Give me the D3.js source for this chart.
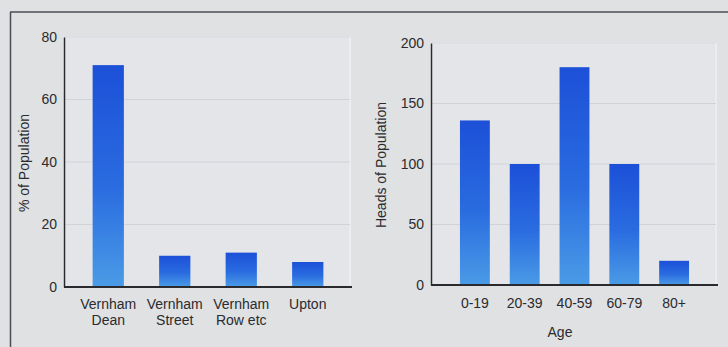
<!DOCTYPE html>
<html>
<head>
<meta charset="utf-8">
<script src="https://cdn.jsdelivr.net/npm/d3@7"></script>
<style>
  body { margin: 0; background: #dfe1e3; }
  svg { display: block; }
  text { font-family: "Liberation Sans", Arial, sans-serif; fill: #2b2b2e; }
</style>
</head>
<body>
<script>
// Data
const places = ["Vernham Dean", "Vernham Street", "Vernham Row etc", "Upton"],
    placeLines = [["Vernham", "Dean"], ["Vernham", "Street"], ["Vernham", "Row etc"], ["Upton"]],
    placePct = [71, 10, 11, 8],
    placeTicks = [0, 20, 40, 60, 80];

const ages = ["0-19", "20-39", "40-59", "60-79", "80+"],
    ageHeads = [136, 100, 180, 100, 20],
    ageTicks = [0, 50, 100, 150, 200];

const width = 728, height = 347;

const svg = d3.select("body").append("svg")
    .attr("width", width)
    .attr("height", height);

// bar gradient, dark blue top to lighter blue bottom
const grad = svg.append("defs").append("linearGradient")
    .attr("id", "barGrad")
    .attr("x1", 0).attr("y1", 0).attr("x2", 0).attr("y2", 1);
grad.append("stop").attr("offset", "0%").attr("stop-color", "#1c50d8");
grad.append("stop").attr("offset", "55%").attr("stop-color", "#2a6ce0");
grad.append("stop").attr("offset", "100%").attr("stop-color", "#4a9be6");

// outer frame lines
svg.append("line").attr("x1", 10).attr("x2", width).attr("y1", 12).attr("y2", 12)
    .attr("stroke", "#4a4e55").attr("stroke-width", 1.5);
svg.append("line").attr("x1", 10.5).attr("x2", 10.5).attr("y1", 12).attr("y2", height)
    .attr("stroke", "#4a4e55").attr("stroke-width", 1.5);

function drawChart(opts) {
    const x = d3.scaleBand()
        .domain(opts.cats)
        .range(opts.xRange)
        .paddingInner(opts.pad)
        .paddingOuter(opts.pad / 2);
    const y = d3.scaleLinear()
        .domain([0, opts.ticks[opts.ticks.length - 1]])
        .range(opts.yRange);

    const g = svg.append("g");
    const left = opts.axisX, right = opts.plotRight;

    // plot area box (light)
    g.append("rect")
        .attr("x", left).attr("y", y.range()[1])
        .attr("width", right - left).attr("height", y.range()[0] - y.range()[1])
        .attr("fill", "#e3e5e8")
        .attr("stroke", "#eef0f2").attr("stroke-width", 1.5);

    // gridlines
    g.selectAll(".grid").data(opts.ticks.slice(1)).join("line")
        .attr("x1", left).attr("x2", right)
        .attr("y1", d => y(d)).attr("y2", d => y(d))
        .attr("stroke", "#cfd3d8").attr("stroke-width", 1);

    // bars
    g.selectAll(".bar").data(opts.values).join("rect")
        .attr("x", (d, i) => x(opts.cats[i]))
        .attr("y", d => y(d))
        .attr("width", x.bandwidth())
        .attr("height", d => y(0) - y(d))
        .attr("fill", "url(#barGrad)");

    // y axis
    const yAxis = d3.axisLeft(y).tickValues(opts.ticks).tickSize(0).tickPadding(7);
    const ya = g.append("g").attr("transform", `translate(${left},0)`).call(yAxis);
    ya.select(".domain").attr("stroke", "#2a2a2e").attr("stroke-width", 1.5);
    ya.selectAll("text").style("font-size", "14px").attr("fill", "#2b2b2e");

    // x baseline
    g.append("line")
        .attr("x1", left).attr("x2", right + 2)
        .attr("y1", y(0)).attr("y2", y(0))
        .attr("stroke", "#2a2a2e").attr("stroke-width", 2);

    // x labels
    const lab = g.selectAll(".xl").data(opts.cats).join("text")
        .attr("text-anchor", "middle")
        .style("font-size", "14px")
        .attr("x", d => x(d) + x.bandwidth() / 2)
        .attr("y", y(0) + opts.labelDy);
    lab.selectAll("tspan").data((d, i) => opts.lines[i]).join("tspan")
        .attr("x", function() { return this.parentNode.getAttribute("x"); })
        .attr("dy", (d, j) => j === 0 ? 0 : 16)
        .text(d => d);

    // y title
    g.append("text")
        .attr("transform", `translate(${opts.yTitleX},${opts.yTitleY}) rotate(-90)`)
        .attr("text-anchor", "middle")
        .style("font-size", "14px")
        .text(opts.yTitle);

    if (opts.xTitle) {
        g.append("text")
            .attr("x", opts.xTitleX).attr("y", opts.xTitleY)
            .attr("text-anchor", "middle")
            .style("font-size", "14px")
            .text(opts.xTitle);
    }
}

drawChart({
    cats: places,
    lines: placeLines,
    values: placePct,
    ticks: placeTicks,
    xRange: [75, 341],
    pad: 0.53,
    yRange: [287, 37],
    axisX: 64,
    plotRight: 350,
    labelDy: 22,
    yTitle: "% of Population",
    yTitleX: 29,
    yTitleY: 163
});

drawChart({
    cats: ages,
    lines: ages.map(a => [a]),
    values: ageHeads,
    ticks: ageTicks,
    xRange: [450, 699],
    pad: 0.4,
    yRange: [285, 43],
    axisX: 431,
    plotRight: 716,
    labelDy: 23,
    yTitle: "Heads of Population",
    yTitleX: 386,
    yTitleY: 165,
    xTitle: "Age",
    xTitleX: 560,
    xTitleY: 337
});
</script>
</body>
</html>
